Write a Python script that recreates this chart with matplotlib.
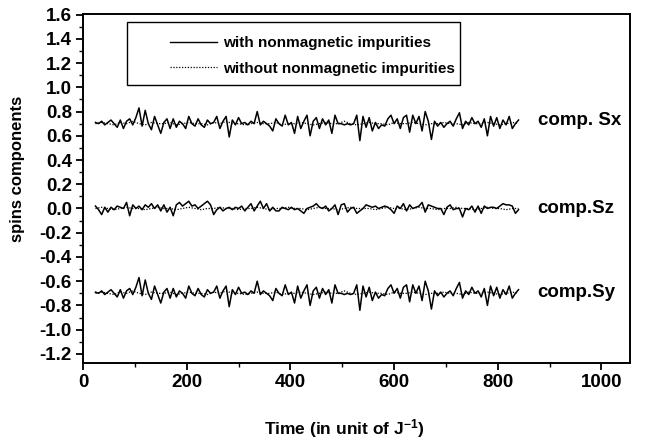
import numpy as np
import matplotlib
matplotlib.use("Agg")
import matplotlib.pyplot as plt
from matplotlib.patches import Rectangle
from matplotlib.lines import Line2D

plt.rcParams['font.family'] = ['Liberation Sans', 'DejaVu Sans']
plt.rcParams['font.weight'] = 'bold'
plt.rcParams['axes.unicode_minus'] = False
plt.rcParams['mathtext.fontset'] = 'custom'
plt.rcParams['mathtext.rm'] = 'Liberation Sans:bold'
plt.rcParams['mathtext.bf'] = 'Liberation Sans:bold'
plt.rcParams['mathtext.it'] = 'Liberation Sans:bold'

# ---------------- data ----------------
time = np.arange(24, 841, 6)
time_without = np.arange(24, 841, 12)

sx_with = [
    0.71, 0.70, 0.72, 0.69, 0.71, 0.73, 0.70, 0.67, 0.73, 0.66,
    0.72, 0.74, 0.69, 0.75, 0.83, 0.68, 0.81, 0.70, 0.65, 0.76,
    0.69, 0.62, 0.71, 0.74, 0.66, 0.74, 0.67, 0.72, 0.70, 0.66,
    0.76, 0.70, 0.68, 0.74, 0.69, 0.67, 0.73, 0.70, 0.71, 0.76,
    0.66, 0.72, 0.76, 0.59, 0.73, 0.69, 0.75, 0.70, 0.71, 0.69,
    0.72, 0.70, 0.80, 0.69, 0.72, 0.70, 0.68, 0.64, 0.74, 0.70,
    0.68, 0.77, 0.69, 0.71, 0.62, 0.76, 0.66, 0.72, 0.77, 0.60,
    0.72, 0.75, 0.66, 0.74, 0.69, 0.73, 0.62, 0.77, 0.70, 0.70,
    0.69, 0.70, 0.69, 0.70, 0.77, 0.56, 0.76, 0.67, 0.75, 0.64,
    0.71, 0.66, 0.69, 0.68, 0.74, 0.77, 0.70, 0.74, 0.66, 0.75,
    0.77, 0.63, 0.77, 0.70, 0.76, 0.64, 0.80, 0.72, 0.57, 0.72,
    0.68, 0.71, 0.67, 0.70, 0.72, 0.68, 0.74, 0.79, 0.66, 0.72,
    0.69, 0.75, 0.70, 0.72, 0.67, 0.74, 0.60, 0.76, 0.68, 0.75,
    0.66, 0.73, 0.69, 0.76, 0.66, 0.70, 0.73,
]

sz_with = [
    0.02, -0.01, -0.05, 0.01, -0.03, 0.01, -0.01, 0.02, 0.01, 0.00,
    0.05, -0.06, 0.03, 0.00, 0.02, -0.01, 0.03, 0.01, 0.04, 0.00,
    0.03, -0.02, 0.03, -0.03, 0.01, -0.06, 0.03, 0.05, 0.02, 0.04,
    0.06, 0.02, 0.03, 0.00, 0.02, 0.04, 0.06, 0.03, -0.05, -0.01,
    0.01, -0.02, 0.00, 0.01, -0.01, 0.01, 0.00, 0.02, -0.02, 0.01,
    0.04, -0.02, 0.02, 0.06, 0.00, 0.04, -0.02, 0.01, -0.02, -0.02,
    0.01, 0.00, -0.01, 0.01, -0.01, 0.00, -0.02, -0.04, 0.00, 0.01,
    0.02, 0.04, 0.01, 0.00, 0.02, -0.02, 0.00, 0.03, -0.05, 0.03,
    0.04, -0.03, 0.00, 0.01, -0.04, -0.02, 0.00, 0.03, 0.02, 0.01,
    0.02, 0.00, 0.01, 0.02, 0.01, -0.01, -0.04, 0.02, 0.00, 0.04,
    -0.02, 0.03, 0.00, 0.01, 0.02, 0.05, -0.03, 0.03, 0.02, 0.01,
    0.00, 0.00, -0.05, 0.01, 0.03, -0.01, 0.00, 0.00, -0.07, 0.00,
    -0.01, 0.02, -0.03, 0.02, -0.04, 0.02, 0.00, 0.01, 0.01, 0.00,
    0.02, 0.04, 0.03, 0.03, 0.02, -0.04, -0.01,
]

sy_with = [
    -0.69, -0.70, -0.68, -0.71, -0.69, -0.67, -0.70, -0.73, -0.67, -0.74,
    -0.68, -0.66, -0.71, -0.65, -0.57, -0.72, -0.59, -0.70, -0.75, -0.64,
    -0.71, -0.78, -0.69, -0.66, -0.74, -0.66, -0.73, -0.68, -0.70, -0.74,
    -0.64, -0.70, -0.72, -0.66, -0.71, -0.73, -0.67, -0.70, -0.69, -0.64,
    -0.74, -0.68, -0.64, -0.81, -0.67, -0.71, -0.65, -0.70, -0.69, -0.71,
    -0.68, -0.70, -0.60, -0.71, -0.68, -0.70, -0.72, -0.76, -0.66, -0.70,
    -0.72, -0.63, -0.71, -0.69, -0.78, -0.64, -0.74, -0.68, -0.63, -0.80,
    -0.68, -0.65, -0.74, -0.66, -0.71, -0.67, -0.78, -0.63, -0.70, -0.70,
    -0.71, -0.70, -0.71, -0.70, -0.63, -0.84, -0.64, -0.73, -0.65, -0.76,
    -0.69, -0.74, -0.71, -0.72, -0.66, -0.63, -0.70, -0.66, -0.74, -0.65,
    -0.63, -0.77, -0.63, -0.70, -0.64, -0.76, -0.60, -0.68, -0.83, -0.68,
    -0.72, -0.69, -0.73, -0.70, -0.68, -0.72, -0.66, -0.61, -0.74, -0.68,
    -0.71, -0.65, -0.70, -0.68, -0.73, -0.66, -0.80, -0.64, -0.72, -0.65,
    -0.74, -0.67, -0.71, -0.64, -0.74, -0.70, -0.67,
]

sx_without = [
    0.70, 0.71, 0.70, 0.69, 0.71, 0.70, 0.72, 0.70, 0.69, 0.71,
    0.70, 0.70, 0.71, 0.69, 0.70, 0.71, 0.70, 0.70, 0.69, 0.71,
    0.70, 0.72, 0.70, 0.70, 0.69, 0.70, 0.71, 0.70, 0.70, 0.71,
    0.69, 0.70, 0.70, 0.71, 0.70, 0.69, 0.70, 0.71, 0.70, 0.70,
    0.72, 0.70, 0.69, 0.70, 0.71, 0.70, 0.70, 0.69, 0.71, 0.70,
    0.70, 0.71, 0.70, 0.69, 0.70, 0.70, 0.71, 0.70, 0.70, 0.69,
    0.71, 0.70, 0.70, 0.71, 0.70, 0.69, 0.70, 0.71, 0.70,
]

sz_without = [
    0.00, 0.01, 0.00, -0.01, 0.00, 0.01, 0.00, 0.00, -0.01, 0.00,
    0.01, 0.00, 0.00, -0.01, 0.00, 0.01, 0.00, -0.01, 0.00, 0.00,
    0.01, 0.00, 0.00, -0.01, 0.00, 0.00, 0.01, 0.00, -0.01, 0.00,
    0.00, 0.01, 0.00, 0.00, -0.01, 0.00, 0.01, 0.00, 0.00, -0.01,
    0.00, 0.01, 0.00, 0.00, 0.00, -0.01, 0.00, 0.01, 0.00, 0.00,
    -0.01, 0.00, 0.01, 0.00, 0.00, -0.01, 0.00, 0.00, 0.01, 0.00,
    0.00, -0.01, 0.00, 0.01, 0.00, 0.00, -0.01, 0.00, 0.00,
]

sy_without = [
    -0.70, -0.69, -0.70, -0.71, -0.69, -0.70, -0.68, -0.70, -0.71, -0.69,
    -0.70, -0.70, -0.69, -0.71, -0.70, -0.69, -0.70, -0.70, -0.71, -0.69,
    -0.70, -0.68, -0.70, -0.70, -0.71, -0.70, -0.69, -0.70, -0.70, -0.69,
    -0.71, -0.70, -0.70, -0.69, -0.70, -0.71, -0.70, -0.69, -0.70, -0.70,
    -0.68, -0.70, -0.71, -0.70, -0.69, -0.70, -0.70, -0.71, -0.69, -0.70,
    -0.70, -0.69, -0.70, -0.71, -0.70, -0.70, -0.69, -0.70, -0.70, -0.71,
    -0.69, -0.70, -0.70, -0.69, -0.70, -0.71, -0.70, -0.69, -0.70,
]

legend_labels = ['with nonmagnetic impurities', 'without nonmagnetic impurities']
series_names = ['comp. Sx', 'comp.Sz', 'comp.Sy']
name_y = [0.73, 0.0, -0.69]
x_ticks = [0, 200, 400, 600, 800, 1000]
y_ticks = [-1.2, -1.0, -0.8, -0.6, -0.4, -0.2, 0.0, 0.2, 0.4, 0.6, 0.8, 1.0, 1.2, 1.4, 1.6]

# ---------------- figure ----------------
fig = plt.figure(figsize=(6.49, 4.40), dpi=100)
ax = fig.add_axes([83 / 649, 77 / 440, 547 / 649, 349 / 440])

dot = (0, (1.0, 1.3))
for ys in (sx_without, sz_without, sy_without):
    ax.plot(time_without, ys, color='black', lw=0.9, linestyle=dot)
for ys in (sx_with, sz_with, sy_with):
    ax.plot(time, ys, color='black', lw=1.1)

for name, yv in zip(series_names, name_y):
    ax.text(877, yv, name, fontsize=13.5, fontweight='bold', va='center', ha='left')

ax.set_xlim(0, 1055)
ax.set_ylim(-1.275, 1.605)
ax.set_xticks(x_ticks)
ax.set_xticks(np.arange(100, 1001, 200), minor=True)
ax.set_yticks(y_ticks)
ax.set_yticks(np.arange(-1.1, 1.6, 0.2), minor=True)
ax.set_yticklabels([f"{v:.1f}" for v in y_ticks])
ax.set_xticklabels([str(v) for v in x_ticks])

ax.tick_params(which='major', direction='out', length=5, width=1.3, labelsize=13.5,
               top=False, right=False, pad=3)
ax.tick_params(which='minor', direction='out', length=3, width=1.0, top=False, right=False)
for lab in ax.get_xticklabels() + ax.get_yticklabels():
    lab.set_fontweight('bold')
for sp in ax.spines.values():
    sp.set_linewidth(1.4)

ax.set_xlabel(r'Time (in unit of J$^{\mathbf{-1}}$)', fontsize=12.5, fontweight='bold')
ax.xaxis.set_label_coords(0.477, -0.155)
ax.set_ylabel('spins components', fontsize=12, fontweight='bold')
ax.yaxis.set_label_coords(-0.106, 0.556)

# legend box
rect = Rectangle((0.08, 0.797), 0.61, 0.18, transform=ax.transAxes, facecolor='white',
                 edgecolor='black', lw=1.0, zorder=3)
ax.add_patch(rect)
handles = [Line2D([], [], color='black', lw=1.0),
           Line2D([], [], color='black', lw=0.9, linestyle=dot)]
leg = ax.legend(handles, legend_labels, loc='center right', bbox_to_anchor=(0.680, 0.880),
                frameon=False, prop={'weight': 'bold', 'size': 11}, handlelength=3.1,
                handletextpad=0.4, labelspacing=0.75, borderpad=0, borderaxespad=0)
leg.set_zorder(4)

fig.savefig('out.png', dpi=100)
